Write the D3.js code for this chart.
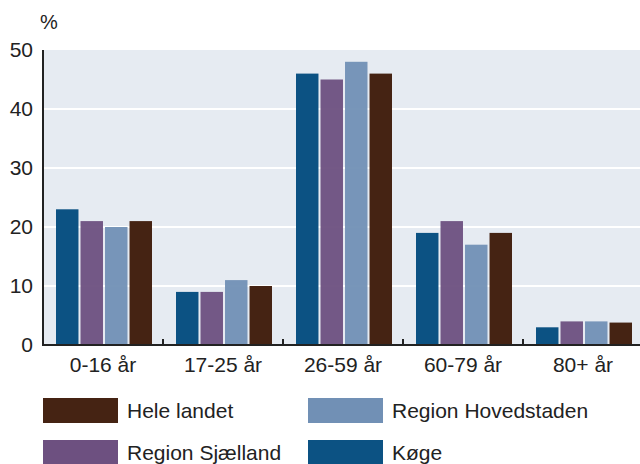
<!DOCTYPE html>
<html>
<head>
<meta charset="utf-8">
<script src="https://cdn.jsdelivr.net/npm/d3@7"></script>
<style>
  body { margin: 0; background: #fff; }
  text { font-family: "Liberation Sans", Arial, sans-serif; fill: #222; }
</style>
</head>
<body>
<svg id="chart" width="640" height="464"></svg>
<script>
// age groups on the x axis
var categories = ["0-16 år", "17-25 år", "26-59 år", "60-79 år", "80+ år"];
var seriesNames = ["Køge", "Region Sjælland", "Region Hovedstaden", "Hele landet"];
var koege = [23, 9, 46, 19, 3];
var sjaelland = [21, 9, 45, 21, 4];
var hovedstaden = [20, 11, 48, 17, 4];
var heleLandet = [21, 10, 46, 19, 3.8];
var yTicks = [0, 10, 20, 30, 40, 50];

var seriesValues = [koege, sjaelland, hovedstaden, heleLandet];
var colors = ["#0c5283", "#6d5080", "#7190b5", "#452313"];
var opacities = [1, 0.95, 0.95, 1];

var svg = d3.select("#chart");
var plotLeft = 43, plotTop = 50, plotW = 600, plotBottom = 345;
var fontSize = "21px";

var x = d3.scaleBand().domain(categories).range([plotLeft, plotLeft + plotW]).paddingInner(0).paddingOuter(0);
var y = d3.scaleLinear().domain([0, 50]).range([plotBottom, plotTop]);
var xSub = d3.scaleBand().domain(d3.range(4)).range([13, 109]).paddingInner(2 / 24).paddingOuter(0);

svg.append("rect")
    .attr("x", plotLeft).attr("y", plotTop)
    .attr("width", plotW).attr("height", plotBottom - plotTop)
    .attr("fill", "#e6ebf2");

// grid
svg.selectAll("line.grid")
    .data(yTicks.filter(function(t) { return t > 0 && t < 50; }))
    .enter().append("line")
    .attr("class", "grid")
    .attr("x1", plotLeft).attr("x2", 640)
    .attr("y1", function(d) { return y(d); })
    .attr("y2", function(d) { return y(d); })
    .attr("stroke", "#fff").attr("stroke-width", 2);

// bars
seriesValues.forEach(function(vals, si) {
    svg.selectAll("rect.s" + si)
        .data(vals)
        .enter().append("rect")
        .attr("class", "s" + si)
        .attr("x", function(d, i) { return x(categories[i]) + xSub(si); })
        .attr("width", xSub.bandwidth())
        .attr("y", function(d) { return y(d); })
        .attr("height", function(d) { return y(0) - y(d); })
        .attr("fill", colors[si])
        .attr("fill-opacity", opacities[si]);
});

// y axis
var yAxis = d3.axisLeft(y).tickValues(yTicks).tickSize(0).tickPadding(10);
var yg = svg.append("g").attr("transform", "translate(" + plotLeft + ",0)").call(yAxis);
yg.select(".domain").remove();
yg.selectAll("text").style("font-size", fontSize).attr("fill", "#222");
svg.append("line")
    .attr("x1", plotLeft).attr("x2", plotLeft)
    .attr("y1", plotTop).attr("y2", plotBottom + 1)
    .attr("stroke", "#222").attr("stroke-width", 2);

// x axis
var xAxis = d3.axisBottom(x).tickSize(0).tickPadding(12);
var xg = svg.append("g").attr("transform", "translate(0," + plotBottom + ")").call(xAxis);
xg.select(".domain").remove();
xg.selectAll("text").style("font-size", fontSize).attr("fill", "#222");
svg.append("line")
    .attr("x1", plotLeft).attr("x2", 640)
    .attr("y1", plotBottom).attr("y2", plotBottom)
    .attr("stroke", "#222").attr("stroke-width", 2);
svg.selectAll("line.xtick")
    .data(categories.slice(1))
    .enter().append("line")
    .attr("class", "xtick")
    .attr("x1", function(d) { return x(d); })
    .attr("x2", function(d) { return x(d); })
    .attr("y1", plotBottom).attr("y2", plotBottom - 6)
    .attr("stroke", "#222").attr("stroke-width", 2);

svg.append("text")
    .attr("x", 40).attr("y", 29)
    .style("font-size", "20px")
    .text("%");

// legend
var legendItems = [
    { name: "Hele landet", color: colors[3], col: 0, row: 0 },
    { name: "Region Hovedstaden", color: colors[2], col: 1, row: 0 },
    { name: "Region Sjælland", color: colors[1], col: 0, row: 1 },
    { name: "Køge", color: colors[0], col: 1, row: 1 }
];
var lg = svg.selectAll("g.legend")
    .data(legendItems)
    .enter().append("g")
    .attr("class", "legend")
    .attr("transform", function(d) {
        return "translate(" + (43 + d.col * 265) + "," + (398 + d.row * 42) + ")";
    });
lg.append("rect")
    .attr("width", 75).attr("height", 25)
    .attr("fill", function(d) { return d.color; });
lg.append("text")
    .attr("x", 84).attr("y", 12.5)
    .attr("dy", "0.35em")
    .style("font-size", fontSize)
    .text(function(d) { return d.name; });
</script>
</body>
</html>
